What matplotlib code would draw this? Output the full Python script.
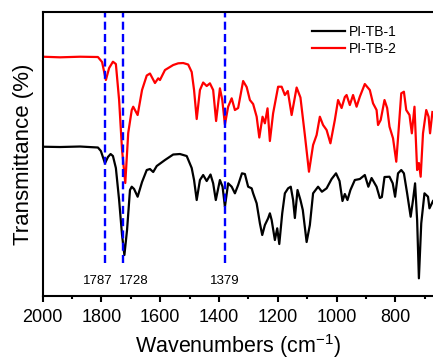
import matplotlib
matplotlib.use("Agg")
import matplotlib.pyplot as plt
from matplotlib.ticker import MultipleLocator

# --- Spectra (wavenumber in cm^-1, transmittance in arbitrary units) ---
wn_tb2 = [2000, 1941, 1873, 1812, 1798, 1785, 1774, 1761, 1751, 1740, 1730, 1719,
          1709, 1697, 1692, 1677, 1662, 1646, 1635, 1618, 1607, 1601, 1584, 1556,
          1539, 1522, 1505, 1493, 1485, 1476, 1465, 1454, 1442, 1431, 1420, 1410,
          1397, 1389, 1380, 1369, 1357, 1346, 1335, 1318, 1306, 1295, 1284, 1272,
          1263, 1252, 1244, 1235, 1227, 1216, 1199, 1187, 1176, 1166, 1153, 1136,
          1123, 1108, 1094, 1080, 1068, 1057, 1046, 1034, 1021, 1006, 995, 983,
          972, 966, 955, 944, 932, 921, 904, 887, 876, 864, 859, 850,
          837, 828, 820, 808, 797, 789, 780, 771, 763, 752, 744, 735,
          726, 720, 714, 706, 695, 687, 682, 674]
t_tb2 = [239.3, 238.7, 239.3, 239, 234, 216, 228, 234.3, 232, 196, 146, 113,
         163, 186, 189.3, 181, 206, 220.5, 222.5, 213, 217.7, 216, 226, 231,
         232.7, 233, 231.5, 224, 206, 177, 206, 213.5, 210, 212.7, 206, 175,
         207.7, 196, 171.5, 189.3, 197.7, 186, 188, 215, 209, 196, 192, 179.3,
         158.5, 179.3, 172.7, 187.7, 155, 182.7, 209.3, 209.3, 201, 205, 181, 208.5,
         198.5, 161, 124.3, 151, 161, 179.3, 171, 166, 152.7, 176, 196, 188,
         199, 201, 191, 201, 189.3, 199.3, 212, 206, 192.7, 186, 171, 176,
         196, 188, 169.3, 157.7, 134.3, 166, 202.7, 204.3, 186, 181, 162.7, 189.3,
         126, 133, 119.3, 162.7, 186, 179.3, 162.7, 184]

wn_tb1 = [2000, 1941, 1873, 1812, 1802, 1788, 1778, 1769, 1761, 1751, 1740, 1730,
          1722, 1713, 1703, 1697, 1689, 1677, 1662, 1646, 1635, 1624, 1612, 1584,
          1556, 1533, 1510, 1493, 1485, 1476, 1465, 1454, 1442, 1429, 1420, 1411,
          1397, 1388, 1380, 1369, 1357, 1346, 1335, 1322, 1312, 1301, 1289, 1284,
          1272, 1261, 1253, 1244, 1233, 1227, 1221, 1210, 1202, 1195, 1185, 1176,
          1165, 1156, 1148, 1142, 1133, 1123, 1115, 1102, 1091, 1080, 1063, 1050,
          1034, 1017, 1002, 990, 980, 972, 963, 953, 938, 921, 904, 892,
          881, 864, 853, 846, 837, 820, 809, 801, 791, 780, 771, 760,
          748, 740, 733, 726, 720, 712, 701, 689, 684, 672]
t_tb1 = [149.3, 149, 149.5, 148.5, 145, 132.7, 139, 142, 140, 128, 96, 61,
         41, 66, 106, 109.3, 107, 99.3, 114, 126, 127, 124, 130, 136,
         141.5, 142, 140, 128, 116, 96, 116, 121, 115, 121.5, 112.7, 96,
         116, 109.3, 89.3, 112.7, 109.3, 102.7, 111, 122.7, 122, 109.3, 107.7, 102.7,
         92.7, 72.7, 61, 71, 77.7, 82.7, 76, 56, 67.7, 52, 82.7, 102.7,
         107.7, 109.3, 96, 78, 106, 96, 86, 54, 71, 102.7, 109.3, 104.3,
         107.7, 117, 122.7, 115, 95, 102, 96, 106, 116, 117, 121, 109.3,
         118, 109.3, 98, 99, 119, 119.3, 112.7, 99.3, 122.7, 126, 122.7, 102.7,
         79.3, 96, 112.7, 76, 17.7, 72.7, 102.7, 99.3, 87.7, 95]

series_labels = ["PI-TB-1", "PI-TB-2"]
marker_peaks = [1787, 1728, 1379]
marker_labels = ["1787", "1728", "1379"]
marker_label_pos = [1814, 1689, 1380]


def configure_plot_style() -> None:
    """Arial-like fonts, thick frame."""
    plt.rcParams.update({
        'font.family': ['Liberation Sans', 'DejaVu Sans'],
        'mathtext.default': 'regular',
        'axes.unicode_minus': False,
        'font.size': 10,
        'axes.linewidth': 1.5,
    })


def create_ftir_plot() -> plt.Figure:
    fig = plt.figure(figsize=(4.33, 3.61), dpi=100)
    ax = fig.add_axes([0.0986, 0.18, 0.9014, 0.7867])

    ax.plot(wn_tb1, t_tb1, color='black', lw=1.6, label=series_labels[0])
    ax.plot(wn_tb2, t_tb2, color='red', lw=1.6, label=series_labels[1])

    # dashed guides for the characteristic bands
    ax.vlines(marker_peaks, 33, 284, colors='#0000ff', lw=1.7,
              linestyles=(0, (3.4, 1.8)))
    for pos, txt in zip(marker_label_pos, marker_labels):
        ax.text(pos, 15, txt, ha='center', va='center', fontsize=9.5)

    ax.set_xlim(2000, 672)
    ax.set_ylim(0, 284)
    ax.xaxis.set_major_locator(MultipleLocator(200))
    ax.xaxis.set_minor_locator(MultipleLocator(100))
    ax.tick_params(axis='x', which='major', direction='out', length=4.5,
                   width=1.5, labelsize=13, pad=5)
    ax.tick_params(axis='x', which='minor', direction='out', length=2.5, width=1.5)
    ax.set_yticks([])
    ax.spines['right'].set_visible(False)

    ax.set_xlabel('Wavenumbers (cm$^{-1}$)', fontsize=15.5, labelpad=4.5)
    ax.set_ylabel('Transmittance (%)', fontsize=16, labelpad=6)

    ax.legend(loc='upper left', bbox_to_anchor=(0.689, 0.955), frameon=False,
              fontsize=10, handlelength=2.4, handletextpad=0.25,
              labelspacing=0.2, borderpad=0, borderaxespad=0)
    return fig


if __name__ == "__main__":
    configure_plot_style()
    fig = create_ftir_plot()
    fig.savefig("out.png", dpi=100)
    plt.close(fig)
